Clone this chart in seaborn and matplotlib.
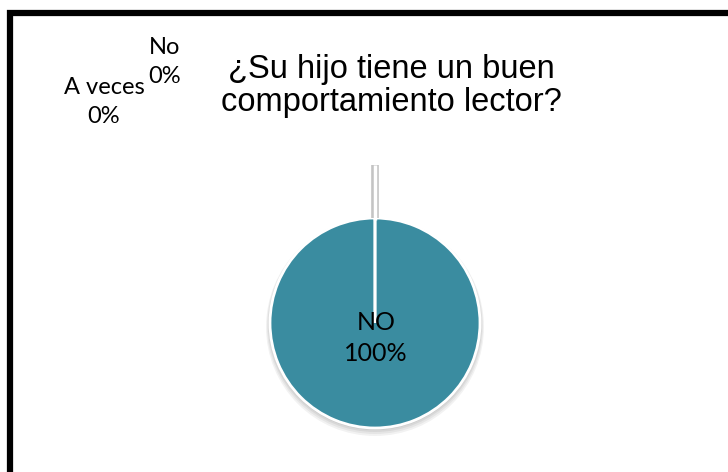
import matplotlib
matplotlib.use('Agg')
import matplotlib.pyplot as plt
import seaborn as sns
from matplotlib.patches import Circle

# ── DATOS ────────────────────────────────────────────────────────────────────
categorias = ['NO', 'No', 'A veces']
valores = [100, 0, 0]
porcentajes = ['100%', '0%', '0%']
titulo = '¿Su hijo tiene un buen\ncomportamiento lector?'

sns.set_theme(style='white')
plt.rcParams['font.family'] = ['Liberation Sans', 'DejaVu Sans']
plt.rcParams['text.color'] = 'black'

fig = plt.figure(figsize=(7.28, 4.72), dpi=100)
ax = fig.add_axes([0, 0, 1, 1])

cx, cy, r = 375, 149, 105
color = '#3A8CA0'

# sombra suave bajo el pastel
for i, a in enumerate([0.05, 0.05, 0.06, 0.07]):
    ax.add_patch(Circle((cx, cy - 4 + i), r + 4 - i, color='black', alpha=a, lw=0, zorder=1))

ax.pie(valores, colors=[color, color, color], startangle=90, counterclock=False,
       center=(cx, cy), radius=r, frame=True,
       wedgeprops=dict(edgecolor='white', linewidth=2, zorder=2))
ax.set_xlim(0, 728)
ax.set_ylim(0, 472)
ax.axis('off')
ax.set_aspect('auto')

# línea guía de las porciones de 0%
ax.plot([cx, cx], [cy + r, cy + r + 53], color='#c4c4c4', lw=5.5, solid_capstyle='butt', zorder=3)
ax.plot([cx, cx], [cy + r - 2, cy + r + 53], color='white', lw=2.5, solid_capstyle='butt', zorder=4)

lab_font = ['Lato', 'DejaVu Sans']
ax.text(cx + 1, cy - 15, f'{categorias[0]}\n{porcentajes[0]}', ha='center', va='center',
        fontsize=18, family=lab_font, linespacing=1.4, zorder=5)
ax.text(165, 472 - 62, f'{categorias[1]}\n{porcentajes[1]}', ha='center', va='center',
        fontsize=17, family=lab_font, linespacing=1.45)
ax.text(104, 472 - 102, f'{categorias[2]}\n{porcentajes[2]}', ha='center', va='center',
        fontsize=17, family=lab_font, linespacing=1.45)

ax.text(391, 472 - 86, titulo, ha='center', va='center', fontsize=23.5, linespacing=1.1)

# marco negro
ax.plot([10, 10, 728], [0, 459, 459], color='black', lw=4.5, solid_joinstyle='miter', zorder=6)

fig.savefig('out.png', dpi=100)
